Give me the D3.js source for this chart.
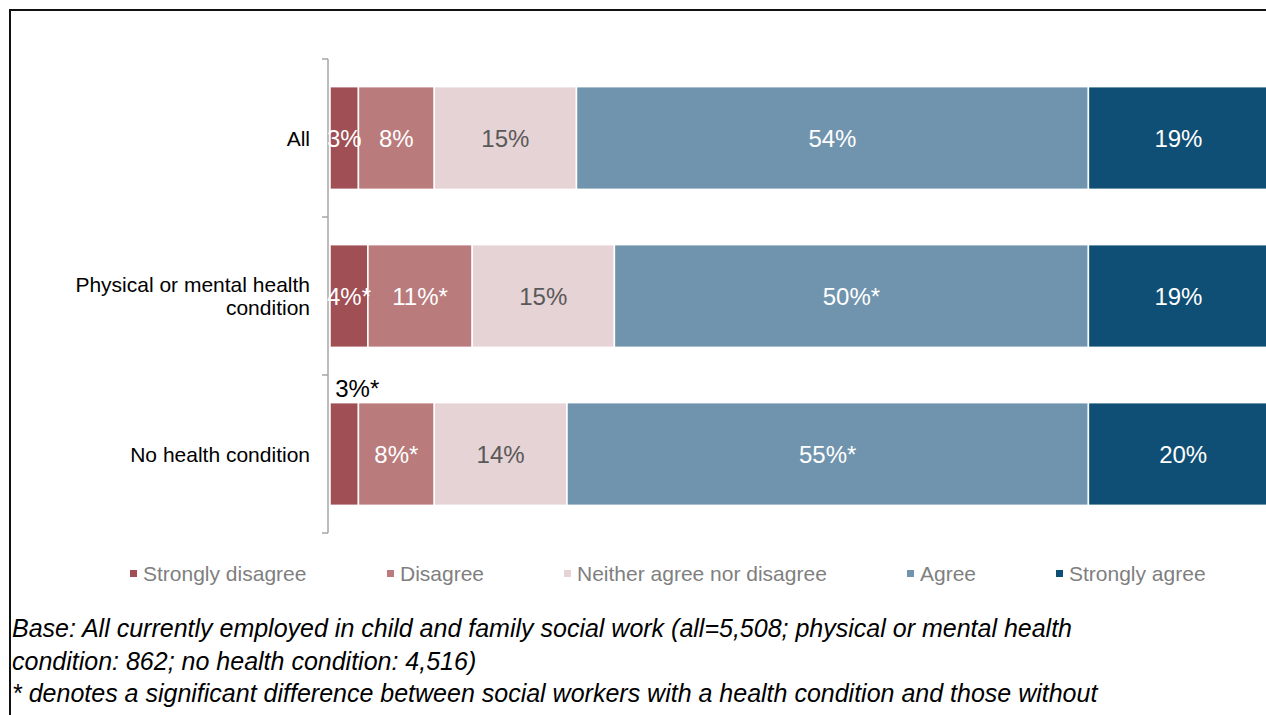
<!DOCTYPE html>
<html>
<head>
<meta charset="utf-8">
<script src="https://cdn.jsdelivr.net/npm/d3@7"></script>
<style>
  html, body { margin: 0; padding: 0; background: #ffffff; }
  svg { display: block; font-family: "Liberation Sans", Arial, sans-serif; }
</style>
</head>
<body>
<svg id="chart" width="1266" height="715"></svg>
<script>
// Groups shown on the vertical axis
const categories = ["All", "Physical or mental health condition", "No health condition"];
// Response scale, left to right
const seriesNames = ["Strongly disagree", "Disagree", "Neither agree nor disagree", "Agree", "Strongly agree"];
// Percentages per group, in the order of seriesNames
const stronglyDisagree = [3, 4, 3];
const disagree = [8, 11, 8];
const neither = [15, 15, 14];
const agree = [54, 50, 55];
const stronglyAgree = [19, 19, 20];
// Significance markers per group and response
const significant = [
  [false, false, false, false, false],
  [true, true, false, true, false],
  [true, true, false, true, false]
];
// Labels placed above the bar instead of inside it: [group index, series index]
const labelsAbove = [[2, 0]];
const colors = ["#A04F55", "#B97B7C", "#E6D3D5", "#7094AE", "#104F75"];
const labelColors = ["#ffffff", "#ffffff", "#595959", "#ffffff", "#ffffff"];
const footnoteLines = [
  "Base: All currently employed in child and family social work (all=5,508; physical or mental health",
  "condition: 862; no health condition: 4,516)",
  "* denotes a significant difference between social workers with a health condition and those without"
];

const values = [stronglyDisagree, disagree, neither, agree, stronglyAgree];
const rows = categories.map((c, i) => {
  const r = { category: c };
  seriesNames.forEach((s, j) => { r[s] = values[j][i]; });
  return r;
});
const stacked = d3.stack().keys(seriesNames)(rows);

const svg = d3.select("#chart");

// Outer frame of the chart area
svg.append("rect")
  .attr("x", 10).attr("y", 10)
  .attr("width", 1270).attr("height", 720)
  .attr("fill", "none").attr("stroke", "#111").attr("stroke-width", 2);

const x = d3.scaleLinear().domain([0, 100]).range([330, 1278]);
const y = d3.scaleBand().domain(categories).range([59, 533]).paddingInner(0.35).paddingOuter(0.175);

// Category axis: line plus ticks at the band boundaries
const axisX = 328;
const g = svg.append("g");
g.append("line")
  .attr("x1", axisX).attr("x2", axisX)
  .attr("y1", y.range()[0]).attr("y2", y.range()[1])
  .attr("stroke", "#A6A6A6").attr("stroke-width", 1.5);
const step = (y.range()[1] - y.range()[0]) / categories.length;
d3.range(categories.length + 1).forEach(i => {
  const yy = y.range()[0] + i * step;
  g.append("line")
    .attr("x1", axisX - 6).attr("x2", axisX)
    .attr("y1", yy).attr("y2", yy)
    .attr("stroke", "#A6A6A6").attr("stroke-width", 1.5);
});

// Category labels, wrapped where needed
const catLines = {
  "All": ["All"],
  "Physical or mental health condition": ["Physical or mental health", "condition"],
  "No health condition": ["No health condition"]
};
categories.forEach(c => {
  const lines = catLines[c];
  const cy = y(c) + y.bandwidth() / 2;
  const lh = 23.5;
  const t = svg.append("text")
    .attr("text-anchor", "end")
    .attr("font-size", 21)
    .attr("fill", "#000");
  lines.forEach((l, k) => {
    t.append("tspan")
      .attr("x", 310)
      .attr("y", cy + 7.5 + (k - (lines.length - 1) / 2) * lh)
      .text(l);
  });
});

// Bar segments
const layers = svg.append("g").selectAll("g")
  .data(stacked)
  .join("g")
  .attr("fill", (d, i) => colors[i]);

layers.selectAll("rect")
  .data(d => d.map(p => ({ p, key: d.key })))
  .join("rect")
  .attr("x", d => x(d.p[0]))
  .attr("y", d => y(d.p.data.category))
  .attr("width", d => x(d.p[1]) - x(d.p[0]))
  .attr("height", y.bandwidth())
  .attr("stroke", "#fff")
  .attr("stroke-width", 1.5);

// Value labels
const aboveSet = new Set(labelsAbove.map(a => a.join(",")));
stacked.forEach((layer, j) => {
  layer.forEach((p, i) => {
    const v = p[1] - p[0];
    const txt = v + "%" + (significant[i][j] ? "*" : "");
    const cx = x((p[0] + p[1]) / 2);
    const above = aboveSet.has(i + "," + j);
    const cy = above ? y(p.data.category) - 6 : y(p.data.category) + y.bandwidth() / 2 + 8.6;
    svg.append("text")
      .attr("x", cx + (above ? 13 : 0))
      .attr("y", cy)
      .attr("text-anchor", "middle")
      .attr("font-size", 24)
      .attr("fill", above ? "#000" : labelColors[j])
      .text(txt);
  });
});

// Legend
const legendX = [130, 387, 564, 907, 1056];
const legend = svg.append("g");
seriesNames.forEach((s, j) => {
  legend.append("rect")
    .attr("x", legendX[j]).attr("y", 570)
    .attr("width", 7).attr("height", 7)
    .attr("fill", colors[j]);
  legend.append("text")
    .attr("x", legendX[j] + 13).attr("y", 581)
    .attr("font-size", 21)
    .attr("fill", "#7F7F7F")
    .text(s);
});

// Footnote
footnoteLines.forEach((l, k) => {
  svg.append("text")
    .attr("x", 12).attr("y", 637 + k * 32.5)
    .attr("font-size", 25)
    .attr("font-style", "italic")
    .attr("fill", "#000")
    .text(l);
});
</script>
</body>
</html>
